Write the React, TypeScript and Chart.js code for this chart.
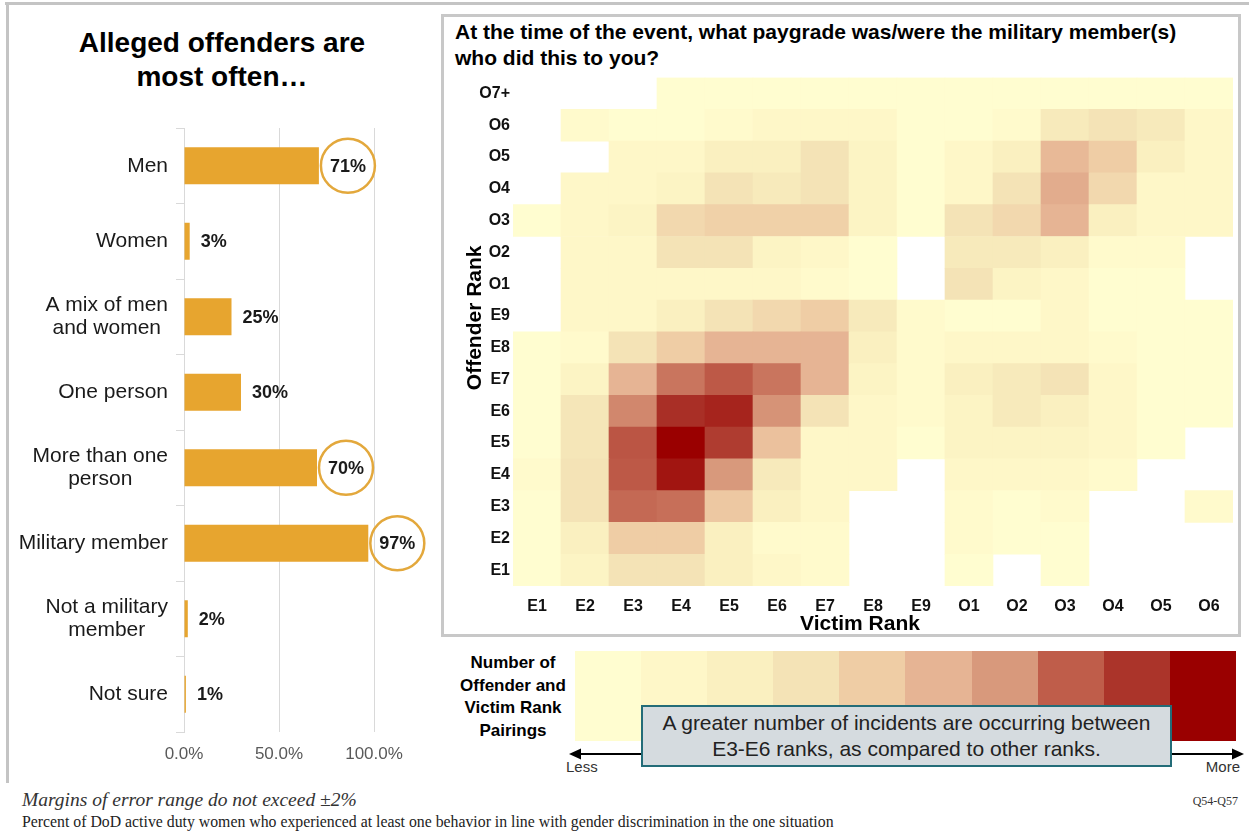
import React, { useEffect, useRef } from "react";
import { Chart, registerables } from "chart.js";

Chart.register(...registerables);

const FONT = '"Liberation Sans", Arial, Helvetica, sans-serif';
const SERIF = '"Liberation Serif", "Times New Roman", serif';
Chart.defaults.font.family = FONT;

// ---------- Left chart data ----------
const offenderTypes = [
  "Men",
  "Women",
  "A mix of men and women",
  "One person",
  "More than one person",
  "Military member",
  "Not a military member",
  "Not sure",
];
const offenderTypeLines = [
  ["Men"],
  ["Women"],
  ["A mix of men", "and women"],
  ["One person"],
  ["More than one", "person"],
  ["Military member"],
  ["Not a military", "member"],
  ["Not sure"],
];
const offenderTypePercents = [71, 3, 25, 30, 70, 97, 2, 1];
const highlightedTypes = ["Men", "More than one person", "Military member"];
const percentAxisTicks = [0, 50, 100];

// ---------- Heatmap data (levels on the 1-10 legend scale, null = no pairing) ----------
const victimRanks = ["E1", "E2", "E3", "E4", "E5", "E6", "E7", "E8", "E9", "O1", "O2", "O3", "O4", "O5", "O6"];
const offenderRanks = ["E1", "E2", "E3", "E4", "E5", "E6", "E7", "E8", "E9", "O1", "O2", "O3", "O4", "O5", "O6", "O7+"];
const offE1 = [1, 2.5, 4, 4, 3, 2, 1.5, null, null, 1, null, 1, null, null, null];
const offE2 = [1, 3, 5, 5, 3, 1.5, 1.5, null, null, 1.5, 1, 1, null, null, null];
const offE3 = [1, 4, 7.8, 7.7, 5.2, 3, 2, null, null, 1.5, 1, 1.5, null, null, 1.5];
const offE4 = [1.5, 4, 8.1, 9.6, 7, 3.5, 2, 2, null, 2, 2, 2, 1.5, null, null];
const offE5 = [1, 3.8, 8.2, 10, 8.8, 5.5, 2, 2, 1, 2.5, 2.5, 2.5, 2, 1, null];
const offE6 = [1, 3.8, 7.3, 9.1, 9.3, 7.1, 4, 2, 1.5, 2.5, 3.5, 3, 2, 1, 1];
const offE7 = [1, 2.5, 6, 7.6, 8.1, 7.6, 6, 2.5, 1.5, 3, 3.5, 4, 2, 1, 1];
const offE8 = [1, 1.5, 4, 5, 6, 6, 6, 3, 1.5, 2, 2, 2, 1.5, 1, 1];
const offE9 = [null, 2, 2, 3, 4, 4.5, 5, 3.5, 1.5, 1, 1, 2, 1, 1, 1];
const offO1 = [null, 2, 2, 2, 2, 2, 1.5, 1, null, 4, 2.5, 2, 1, 1, null];
const offO2 = [null, 2, 2, 4, 4, 2.5, 2, 1, null, 3.5, 3.5, 3, 1.5, 1.5, null];
const offO3 = [1, 2, 2.5, 4.5, 4.8, 4.8, 4.8, 2.5, 1, 4, 4.5, 6, 3, 2, 2];
const offO4 = [null, 2, 2, 2.5, 4, 3.5, 4, 2.5, 1, 2, 4, 6.3, 4.5, 2, 2];
const offO5 = [null, null, 2, 2, 3, 3, 4, 2.5, 1, 2, 3, 5.8, 5, 3, 2];
const offO6 = [null, 1.5, 1, 1, 1.5, 2, 2, 2, 1, 1, 1.5, 3.5, 4, 3.5, 2];
const offO7 = [null, null, null, 1, 1, 1, 1, 1, 1, 1, 1, 1, 1, 1, 1];
const pairingRows = [offE1, offE2, offE3, offE4, offE5, offE6, offE7, offE8, offE9, offO1, offO2, offO3, offO4, offO5, offO6, offO7];

const scaleColors = [
  "#FFFDD0",
  "#FEF7C8",
  "#FAF0C0",
  "#F4E3B6",
  "#EFCDA5",
  "#E6B494",
  "#D8997C",
  "#BF5D4A",
  "#AB342A",
  "#9A0000",
];

function hexToRgb(h: string) {
  const n = parseInt(h.slice(1), 16);
  return [(n >> 16) & 255, (n >> 8) & 255, n & 255];
}
function colorFor(v: number) {
  const last = scaleColors.length - 1;
  const t = Math.min(Math.max(v - 1, 0), last);
  const i = Math.floor(t);
  const f = t - i;
  const a = hexToRgb(scaleColors[i]);
  const b = hexToRgb(scaleColors[Math.min(i + 1, last)]);
  const c = a.map((x, k) => Math.round(x + (b[k] - x) * f));
  return `rgb(${c[0]},${c[1]},${c[2]})`;
}

function OffenderBarChart() {
  const ref = useRef<HTMLCanvasElement>(null);
  useEffect(() => {
    const labelPlugin = {
      id: "offenderLabels",
      afterDatasetsDraw(chart: any) {
        const ctx = chart.ctx;
        const yScale = chart.scales.y;
        const area = chart.chartArea;
        ctx.save();
        ctx.fillStyle = "#1a1a1a";
        ctx.textBaseline = "middle";
        ctx.textAlign = "center";
        ctx.font = `21px ${FONT}`;
        offenderTypeLines.forEach((lines, i) => {
          const yc = yScale.getPixelForValue(i);
          const bw = Math.max(...lines.map((l) => ctx.measureText(l).width));
          const cx = area.left - 16 - bw / 2;
          const lh = 23;
          lines.forEach((l, k) => ctx.fillText(l, cx, yc + (k - (lines.length - 1) / 2) * lh));
        });
        const meta = chart.getDatasetMeta(0);
        ctx.font = `bold 18px ${FONT}`;
        ctx.textAlign = "left";
        meta.data.forEach((bar: any, i: number) => {
          const text = offenderTypePercents[i] + "%";
          const x = bar.x + 11;
          const w = ctx.measureText(text).width;
          ctx.fillStyle = "#1a1a1a";
          ctx.fillText(text, x, bar.y + 1);
          if (highlightedTypes.includes(offenderTypes[i])) {
            ctx.beginPath();
            ctx.strokeStyle = "#E3A83C";
            ctx.lineWidth = 2.5;
            ctx.arc(x + w / 2, bar.y, 27, 0, Math.PI * 2);
            ctx.stroke();
          }
        });
        ctx.restore();
      },
    };
    const chart = new Chart(ref.current as HTMLCanvasElement, {
      type: "bar",
      data: {
        labels: offenderTypes,
        datasets: [
          {
            data: offenderTypePercents,
            backgroundColor: "#E7A52F",
            barPercentage: 0.98,
            categoryPercentage: 0.5,
          },
        ],
      },
      options: {
        indexAxis: "y",
        responsive: false,
        animation: false,
        devicePixelRatio: 1,
        layout: { padding: { top: 28, right: 66, left: 0, bottom: 0 } },
        plugins: { legend: { display: false }, tooltip: { enabled: false } },
        scales: {
          x: {
            min: 0,
            max: 100,
            afterBuildTicks: (s: any) => {
              s.ticks = percentAxisTicks.map((v) => ({ value: v }));
            },
            ticks: {
              callback: (v: any) => Number(v).toFixed(1) + "%",
              font: { size: 17 },
              color: "#595959",
              padding: 12,
              maxRotation: 0,
            },
            grid: { color: "#D9D9D9", drawTicks: false, lineWidth: 1 },
            border: { display: false },
            afterFit: (s: any) => {
              s.height = 48;
            },
          },
          y: {
            ticks: { display: false },
            grid: { drawOnChartArea: false, drawTicks: true, tickLength: 8, color: "#D9D9D9", offset: true },
            border: { display: true, color: "#D9D9D9" },
            afterFit: (s: any) => {
              s.width = 184;
            },
          },
        },
      } as any,
      plugins: [labelPlugin],
    });
    return () => chart.destroy();
  }, []);
  return (
    <canvas
      ref={ref}
      width={440}
      height={680}
      style={{ position: "absolute", left: 0, top: 100, width: 440, height: 680 }}
    />
  );
}

function RankHeatmap() {
  const ref = useRef<HTMLCanvasElement>(null);
  useEffect(() => {
    const titlePlugin = {
      id: "axisTitles",
      afterDraw(chart: any) {
        const ctx = chart.ctx;
        const a = chart.chartArea;
        ctx.save();
        ctx.fillStyle = "#000";
        ctx.font = `bold 21px ${FONT}`;
        ctx.textAlign = "center";
        ctx.textBaseline = "middle";
        ctx.fillText("Victim Rank", (a.left + a.right) / 2 - 13, a.bottom + 38);
        ctx.translate(a.left - 38, (a.top + a.bottom) / 2 - 14);
        ctx.rotate(-Math.PI / 2);
        ctx.fillText("Offender Rank", 0, 0);
        ctx.restore();
      },
    };
    const chart = new Chart(ref.current as HTMLCanvasElement, {
      type: "bar",
      data: {
        labels: victimRanks,
        datasets: pairingRows.map((row, i) => ({
          label: offenderRanks[i],
          data: row.map((v) => (v == null ? null : [i, i + 1])),
          backgroundColor: row.map((v) => (v == null ? "rgba(0,0,0,0)" : colorFor(v))),
          borderWidth: 0,
          grouped: false,
          barPercentage: 1,
          categoryPercentage: 1,
        })),
      },
      options: {
        responsive: false,
        animation: false,
        devicePixelRatio: 1,
        layout: { padding: { top: 9, right: 5, left: 0, bottom: 0 } },
        plugins: { legend: { display: false }, tooltip: { enabled: false } },
        scales: {
          x: {
            grid: { display: false, drawTicks: false },
            border: { display: false },
            ticks: { font: { size: 16, weight: "bold" }, color: "#111", padding: 11, maxRotation: 0, autoSkip: false },
            afterFit: (s: any) => {
              s.height = 54;
            },
          },
          y: {
            min: 0,
            max: 16,
            grid: { display: false, drawTicks: false },
            border: { display: false },
            afterBuildTicks: (s: any) => {
              s.ticks = offenderRanks.map((_, i) => ({ value: i + 0.5 }));
            },
            ticks: {
              callback: (v: any) => offenderRanks[Math.floor(Number(v))],
              font: { size: 16, weight: "bold" },
              color: "#111",
              padding: 3,
              autoSkip: false,
            },
            afterFit: (s: any) => {
              s.width = 70;
            },
          },
        },
      } as any,
      plugins: [titlePlugin],
    });
    return () => chart.destroy();
  }, []);
  return (
    <canvas
      ref={ref}
      width={795}
      height={575}
      style={{ position: "absolute", left: 443, top: 65, width: 795, height: 575 }}
    />
  );
}

export default function App() {
  return (
    <div
      style={{
        position: "absolute",
        left: 0,
        top: 0,
        width: 1249,
        height: 835,
        background: "#fff",
        overflow: "hidden",
        fontFamily: FONT,
        color: "#111",
      }}
    >
      {/* outer frame */}
      <div style={{ position: "absolute", left: 5, top: 2, width: 1244, height: 3, background: "#C4C4C4" }} />
      <div style={{ position: "absolute", left: 6, top: 2, width: 3, height: 781, background: "#C4C4C4" }} />

      {/* left title */}
      <div
        style={{
          position: "absolute",
          left: 0,
          top: 26,
          width: 444,
          textAlign: "center",
          fontWeight: "bold",
          fontSize: 28,
          lineHeight: "34px",
          color: "#000",
        }}
      >
        Alleged offenders are
        <br />
        most often…
      </div>
      <OffenderBarChart />

      {/* right panel */}
      <div
        style={{
          position: "absolute",
          left: 441,
          top: 14,
          width: 800,
          height: 623,
          border: "3px solid #C8C8C8",
          boxSizing: "border-box",
        }}
      />
      <div
        style={{
          position: "absolute",
          left: 455,
          top: 19,
          width: 785,
          fontWeight: "bold",
          fontSize: 21,
          lineHeight: "26px",
          color: "#000",
          whiteSpace: "nowrap",
        }}
      >
        At the time of the event, what paygrade was/were the military member(s)
        <br />
        who did this to you?
      </div>
      <RankHeatmap />

      {/* color scale legend */}
      <div
        style={{
          position: "absolute",
          left: 443,
          top: 652,
          width: 140,
          textAlign: "center",
          fontWeight: "bold",
          fontSize: 17,
          lineHeight: "22.5px",
          color: "#000",
        }}
      >
        Number of
        <br />
        Offender and
        <br />
        Victim Rank
        <br />
        Pairings
      </div>
      <div style={{ position: "absolute", left: 575, top: 651, width: 661, height: 90, display: "flex" }}>
        {scaleColors.map((c) => (
          <div key={c} style={{ flex: 1, background: c }} />
        ))}
      </div>
      <svg style={{ position: "absolute", left: 569, top: 746 }} width={675} height={16}>
        <line x1={8} y1={8} x2={667} y2={8} stroke="#000" strokeWidth={2} />
        <polygon points="0,8 12,2.5 12,13.5" fill="#000" />
        <polygon points="675,8 663,2.5 663,13.5" fill="#000" />
      </svg>
      <div style={{ position: "absolute", left: 566, top: 758, fontSize: 15, color: "#333" }}>Less</div>
      <div style={{ position: "absolute", right: 9, top: 758, fontSize: 15, color: "#333" }}>More</div>
      <div
        style={{
          position: "absolute",
          left: 641,
          top: 705,
          width: 531,
          height: 62,
          background: "#D5DBDF",
          border: "2px solid #236C78",
          boxSizing: "border-box",
          display: "flex",
          flexDirection: "column",
          justifyContent: "center",
          alignItems: "center",
          fontSize: 21,
          lineHeight: "26px",
          color: "#222",
          textAlign: "center",
          whiteSpace: "nowrap",
        }}
      >
        <div>A greater number of incidents are occurring between</div>
        <div>E3-E6 ranks, as compared to other ranks.</div>
      </div>

      {/* footnotes */}
      <div
        style={{
          position: "absolute",
          left: 22,
          top: 789,
          fontFamily: SERIF,
          fontStyle: "italic",
          fontSize: 19.5,
          color: "#333",
          whiteSpace: "nowrap",
        }}
      >
        Margins of error range do not exceed ±2%
      </div>
      <div
        style={{
          position: "absolute",
          left: 22,
          top: 813,
          fontFamily: SERIF,
          fontSize: 15.8,
          color: "#222",
          whiteSpace: "nowrap",
        }}
      >
        Percent of DoD active duty women who experienced at least one behavior in line with gender discrimination in the
        one situation
      </div>
      <div
        style={{
          position: "absolute",
          right: 11,
          top: 794,
          fontFamily: SERIF,
          fontSize: 12,
          color: "#333",
        }}
      >
        Q54-Q57
      </div>
    </div>
  );
}
